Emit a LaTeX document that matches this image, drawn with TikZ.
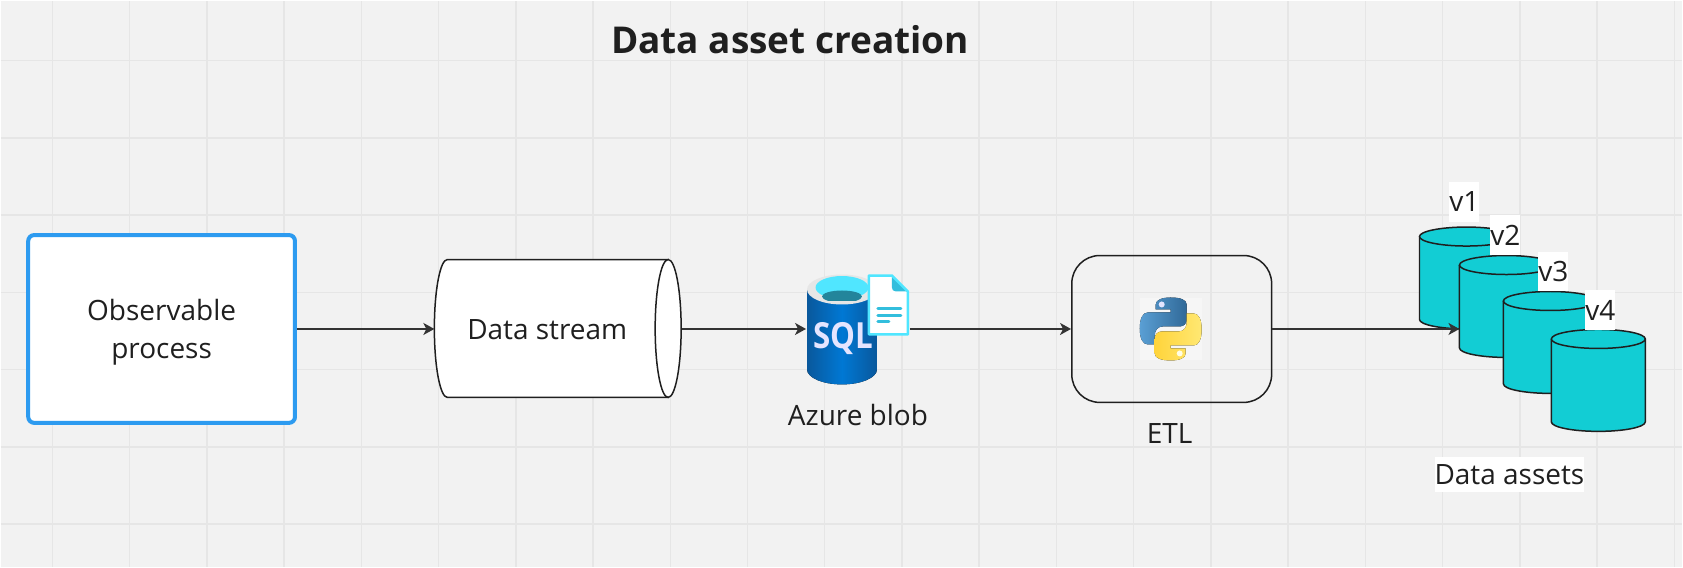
\documentclass[tikz,border=0pt]{standalone}
\usepackage{fontspec}
\setmainfont{Open Sans}
\usetikzlibrary{arrows.meta}
\definecolor{fond}{HTML}{F2F2F2}
\definecolor{grille}{HTML}{E6E6E6}
\definecolor{encre}{HTML}{1F1F1F}
\definecolor{trait}{HTML}{333333}
\definecolor{bleu}{HTML}{2D9BF0}
\definecolor{turquoise}{HTML}{12CDD4}
\definecolor{cyanclair}{HTML}{50E6FF}
\definecolor{cyanfonce}{HTML}{32BEDD}
\definecolor{sqlbord}{HTML}{09589C}
\definecolor{sqlmilieu}{HTML}{0078D4}
\definecolor{pybleua}{HTML}{5A9FD4}
\definecolor{pybleub}{HTML}{306998}
\definecolor{pyjaunea}{HTML}{FFD43B}
\definecolor{pyjauneb}{HTML}{FFE873}
\begin{document}
\begin{tikzpicture}[x=1pt,y=-1pt]
\tikzset{
  texte/.style={text=encre, inner sep=0pt, align=center, font=\fontsize{28}{38}\selectfont},
  fleche/.style={draw=trait, line width=1.7pt, -{Stealth[length=11pt,width=12pt,inset=3pt]}},
  boite/.style={draw=bleu, fill=white, line width=4pt, rounded corners=6pt, minimum width=267pt, minimum height=188pt, inner sep=0pt},
  tuyau/.style={draw=encre, fill=white, line width=1.5pt},
  base/.style={draw=encre, fill=turquoise, line width=1.5pt},
  etiquette/.style={texte, fill=white, minimum width=30pt, minimum height=40pt},
  vide/.style={inner sep=0pt, outer sep=0pt}
}
\newcommand{\serpent}{(1156,312) -- (1171,312) -- (1171,309) -- (1156,309) -- (1156,304) .. controls (1156,299) and (1163,297) .. (1171,297) .. controls (1180,297) and (1187,299) .. (1187,304) -- (1187,319) .. controls (1187,323) and (1184,326) .. (1180,326) -- (1163,326) .. controls (1158,326) and (1155,330) .. (1155,335) -- (1155,344) -- (1148,344) .. controls (1143,344) and (1140,338) .. (1140,328) .. controls (1140,318) and (1143,312) .. (1148,312) -- cycle}
\fill[fond] (0,0) rectangle (1683,567);
\foreach \gx in {0,...,21} \draw[grille, line width=1.5pt] ({51.7+77.3*\gx},0) -- ({51.7+77.3*\gx},567);
\foreach \gy in {0,...,6} \draw[grille, line width=1.5pt] (0,{60+77.3*\gy}) -- (1683,{60+77.3*\gy});
\node[texte, font=\fontsize{37}{40}\selectfont\bfseries] (titre) at (790,39) {Data asset creation};
\node[boite] (process) at (161,328.5) {};
\node[texte] (processtxt) at (161,332) {Observable\\process};
\node[vide, minimum width=247.5pt, minimum height=138pt] (stream) at (557.75,328.5) {};
\draw[tuyau] (668,259) -- (447,259) arc[start angle=90, end angle=270, x radius=13, y radius=-69] -- (668,397) -- cycle;
\draw[tuyau] (668,328) ellipse[x radius=13, y radius=69];
\node[texte] (streamtxt) at (547,329) {Data stream};
\node[vide, minimum width=104pt, minimum height=110pt] (sql) at (858,328.5) {};
\node[texte] (sqltxt) at (858,415) {Azure blob};
\fill[left color=sqlbord, right color=sqlbord, middle color=sqlmilieu] (807,289) -- (807,369) arc[start angle=180, end angle=360, x radius=35, y radius=-15] -- (877,289) -- cycle;
\fill[grille] (842,289) ellipse[x radius=35, y radius=15];
\fill[cyanclair] (842,287) ellipse[x radius=26.5, y radius=11.5];
\begin{scope}
\clip (815,290) rectangle (869,300);
\fill[cyanfonce!70!black] (842,296) ellipse[x radius=20, y radius=6];
\end{scope}
\node[inner sep=0pt, text=white!90!blue, font=\fontsize{36}{40}\selectfont\bfseries] (sqlmot) at (843.5,338) {\scalebox{.87}[1]{SQL}};
\fill[white] (869,275) -- (892,275) -- (908,291) -- (908,334) -- (869,334) -- cycle;
\fill[cyanfonce] (892,275) -- (908,291) -- (896,291) .. controls (893,291) and (892,289) .. (892,287) -- cycle;
\draw[cyanclair, line width=2.5pt, line join=round] (869,275) -- (892,275) -- (908,291) -- (908,334) -- (869,334) -- cycle;
\foreach \ly/\lx in {308.5/901,315/901,321.5/889} \draw[cyanfonce, line width=3pt, line cap=round] (878,\ly) -- (\lx,\ly);
\node[draw=encre, line width=1.5pt, rounded corners=28pt, minimum width=200pt, minimum height=147pt, inner sep=0pt] (etl) at (1172,328.5) {};
\node[texte] (etltxt) at (1170,433) {ETL};
\node[vide, fill=white!30!fond, minimum size=62pt] (python) at (1171,328.5) {};
\fill[left color=pybleua, right color=pybleub] \serpent;
\fill[white!90!blue] (1162,304) circle (3);
\begin{scope}[rotate around={180:(1171,328.5)}]
\fill[left color=pyjaunea, right color=pyjauneb] \serpent;
\fill[white!90!yellow] (1162,304) circle (3);
\end{scope}
\foreach \nom/\cx/\cy in {v1/1467/277.5,v2/1507/306,v3/1551/342,v4/1599/380} {
  \node[vide, minimum width=94pt, minimum height=102pt] (\nom) at (\cx,\cy) {};
  \draw[base] (\cx-47,\cy-41.5) -- (\cx-47,\cy+41.5) arc[start angle=180, end angle=360, x radius=47, y radius=-9.5] -- (\cx+47,\cy-41.5);
  \draw[base] (\cx,\cy-41.5) ellipse[x radius=47, y radius=9.5];
}
\node[etiquette] (v1txt) at (1465,201) {v1};
\node[etiquette] (v2txt) at (1506,234.5) {v2};
\node[etiquette] (v3txt) at (1554,271) {v3};
\node[etiquette] (v4txt) at (1601,310) {v4};
\node[texte, fill=white, minimum width=148pt, minimum height=35pt] (assets) at (1510,474) {Data assets};
\draw[fleche] (process.east) -- (stream.west);
\draw[fleche] (stream.east) -- (sql.west);
\draw[fleche] (sql.east) -- (etl.west);
\draw[fleche] (etl.east) -- (etl.east -| v2.west);
\end{tikzpicture}
\end{document}
